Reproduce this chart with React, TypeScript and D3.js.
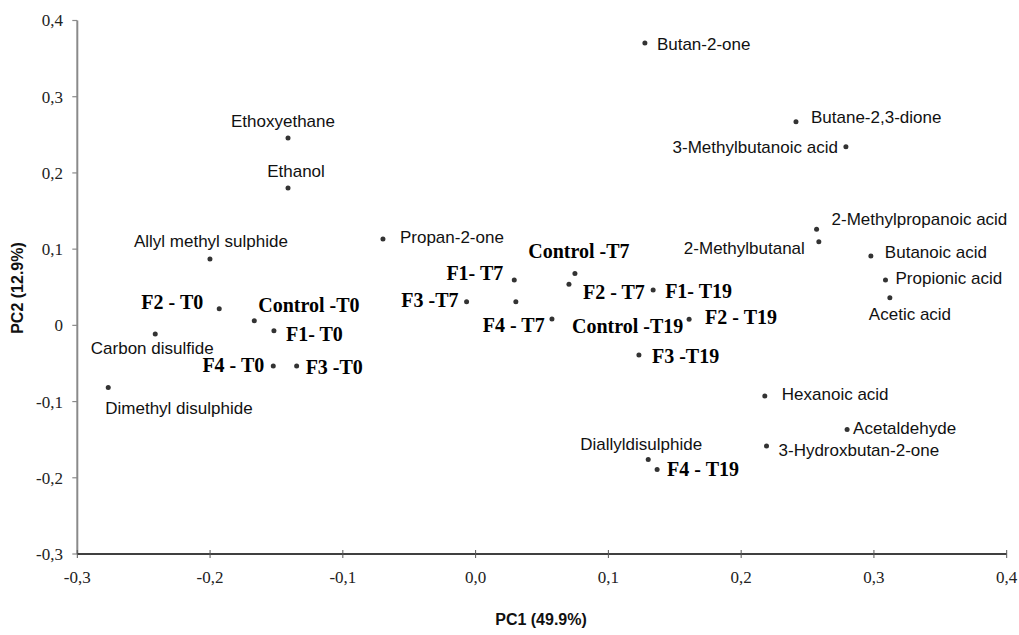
import React from "react";
import * as d3 from "d3";

// PCA scores: volatile compounds (loadings) and fermentation samples
const compoundNames = [
  "Butan-2-one", "Butane-2,3-dione", "3-Methylbutanoic acid", "2-Methylpropanoic acid",
  "2-Methylbutanal", "Butanoic acid", "Propionic acid", "Acetic acid", "Hexanoic acid",
  "Acetaldehyde", "3-Hydroxbutan-2-one", "Diallyldisulphide", "Carbon disulfide",
  "Dimethyl disulphide", "Allyl methyl sulphide", "Ethanol", "Ethoxyethane", "Propan-2-one",
];
const compoundPC1 = [
  0.1275, 0.2413, 0.2789, 0.2568, 0.2585, 0.2977, 0.3087, 0.312, 0.2178,
  0.2798, 0.2191, 0.13, -0.2413, -0.2767, -0.2001, -0.1413, -0.1413, -0.0698,
];
const compoundPC2 = [
  0.3705, 0.2672, 0.2344, 0.126, 0.1097, 0.0909, 0.0594, 0.0362, -0.0928,
  -0.1365, -0.1584, -0.1759, -0.0114, -0.0814, 0.087, 0.1802, 0.2458, 0.1133,
];

const sampleNames = [
  "F2 - T0", "Control -T0", "F1- T0", "F4 - T0", "F3 -T0",
  "F1- T7", "F3 -T7", "F4 - T7", "Control -T7", "F2 - T7",
  "F1- T19", "F2 - T19", "Control -T19", "F3 -T19", "F4 - T19",
];
const samplePC1 = [
  -0.1931, -0.1667, -0.1519, -0.1524, -0.1348,
  0.0291, -0.0068, 0.0303, 0.0748, 0.0703,
  0.1337, 0.1608, 0.0575, 0.123, 0.1367,
];
const samplePC2 = [
  0.0218, 0.006, -0.0071, -0.0534, -0.0534,
  0.0594, 0.031, 0.031, 0.0682, 0.0538,
  0.0463, 0.0079, 0.0083, -0.039, -0.189,
];

const axisTicks = [-0.3, -0.2, -0.1, 0, 0.1, 0.2, 0.3, 0.4];

// label placement relative to each dot: [dx, dy, anchor]
type Place = [number, number, "start" | "middle" | "end"];
const compoundPlace: Record<string, Place> = {
  "Butan-2-one": [12, 7, "start"],
  "Butane-2,3-dione": [15, 1, "start"],
  "3-Methylbutanoic acid": [-8, 6, "end"],
  "2-Methylpropanoic acid": [15, -4, "start"],
  "2-Methylbutanal": [-14, 12, "end"],
  "Butanoic acid": [14, 2, "start"],
  "Propionic acid": [10, 4, "start"],
  "Acetic acid": [-21, 22, "start"],
  "Hexanoic acid": [17, 4, "start"],
  "Acetaldehyde": [6, 5, "start"],
  "3-Hydroxbutan-2-one": [12, 10, "start"],
  "Diallyldisulphide": [-7, -9, "middle"],
  "Carbon disulfide": [-3, 20, "middle"],
  "Dimethyl disulphide": [-3, 27, "start"],
  "Allyl methyl sulphide": [1, -12, "middle"],
  "Ethanol": [8, -11, "middle"],
  "Ethoxyethane": [-5, -11, "middle"],
  "Propan-2-one": [17, 4, "start"],
};
const samplePlace: Record<string, Place> = {
  "F2 - T0": [-16, 0, "end"],
  "Control -T0": [4, -9, "start"],
  "F1- T0": [12, 10, "start"],
  "F4 - T0": [-9, 6, "end"],
  "F3 -T0": [9, 8, "start"],
  "F1- T7": [-11, 0, "end"],
  "F3 -T7": [-8, 5, "end"],
  "F4 - T7": [-33, 30, "start"],
  "Control -T7": [4, -15, "middle"],
  "F2 - T7": [14, 15, "start"],
  "F1- T19": [12, 8, "start"],
  "F2 - T19": [16, 5, "start"],
  "Control -T19": [20, 14, "start"],
  "F3 -T19": [13, 8, "start"],
  "F4 - T19": [10, 7, "start"],
};

const W = 1019;
const H = 635;
const left = 77.3;
const right = 1006.7;
const top = 20.5;
const bottom = 554;

const fmt = (v: number, zeroPlain: boolean) => {
  if (Math.abs(v) < 1e-9) return zeroPlain ? "0" : "0,0";
  return d3.format(".1f")(v).replace(".", ",").replace("−", "-");
};

export default function App() {
  const x = d3.scaleLinear().domain([-0.3, 0.4]).range([left, right]);
  const y = d3.scaleLinear().domain([-0.3, 0.4]).range([bottom, top]);
  const serif = "'Liberation Serif', 'Times New Roman', serif";
  const sans = "'Liberation Sans', Arial, sans-serif";

  return (
    <svg width={W} height={H} style={{ position: "absolute", left: 0, top: 0, background: "#fff" }}>
      {/* y axis */}
      <line x1={left} x2={left} y1={top} y2={bottom} stroke="#8a8a8a" strokeWidth={2} />
      {axisTicks.map((t) => (
        <g key={"y" + t}>
          <line x1={left - 5} x2={left} y1={y(t)} y2={y(t)} stroke="#8a8a8a" strokeWidth={1.2} />
          <text x={63} y={y(t)} dy="0.35em" textAnchor="end" fontFamily={serif} fontSize={17} fill="#222">
            {fmt(t, true)}
          </text>
        </g>
      ))}
      {/* x axis */}
      <line x1={left} x2={right} y1={bottom} y2={bottom} stroke="#000" strokeWidth={1.3} />
      {axisTicks.map((t) => (
        <g key={"x" + t}>
          <line x1={x(t)} x2={x(t)} y1={bottom - 4} y2={bottom + 4} stroke="#555" strokeWidth={1} />
          <text x={x(t)} y={583} textAnchor="middle" fontFamily={serif} fontSize={17} fill="#222">
            {fmt(t, false)}
          </text>
        </g>
      ))}
      <text x={541} y={625} textAnchor="middle" fontFamily={sans} fontWeight="bold" fontSize={16} fill="#111">
        PC1 (49.9%)
      </text>
      <text
        transform={`translate(23,288) rotate(-90)`}
        textAnchor="middle"
        fontFamily={sans}
        fontWeight="bold"
        fontSize={16}
        fill="#111"
      >
        PC2 (12.9%)
      </text>

      {/* compounds */}
      {compoundNames.map((n, i) => {
        const cx = x(compoundPC1[i]);
        const cy = y(compoundPC2[i]);
        const [dx, dy, anchor] = compoundPlace[n];
        return (
          <g key={n}>
            <circle cx={cx} cy={cy} r={2.5} fill="#333" />
            <text x={cx + dx} y={cy + dy} textAnchor={anchor} fontFamily={sans} fontSize={17} fill="#111">
              {n}
            </text>
          </g>
        );
      })}

      {/* samples */}
      {sampleNames.map((n, i) => {
        const cx = x(samplePC1[i]);
        const cy = y(samplePC2[i]);
        const [dx, dy, anchor] = samplePlace[n];
        return (
          <g key={n}>
            <circle cx={cx} cy={cy} r={2.5} fill="#333" />
            <text
              x={cx + dx}
              y={cy + dy}
              textAnchor={anchor}
              fontFamily={serif}
              fontWeight="bold"
              fontSize={20}
              fill="#000"
            >
              {n}
            </text>
          </g>
        );
      })}
    </svg>
  );
}
